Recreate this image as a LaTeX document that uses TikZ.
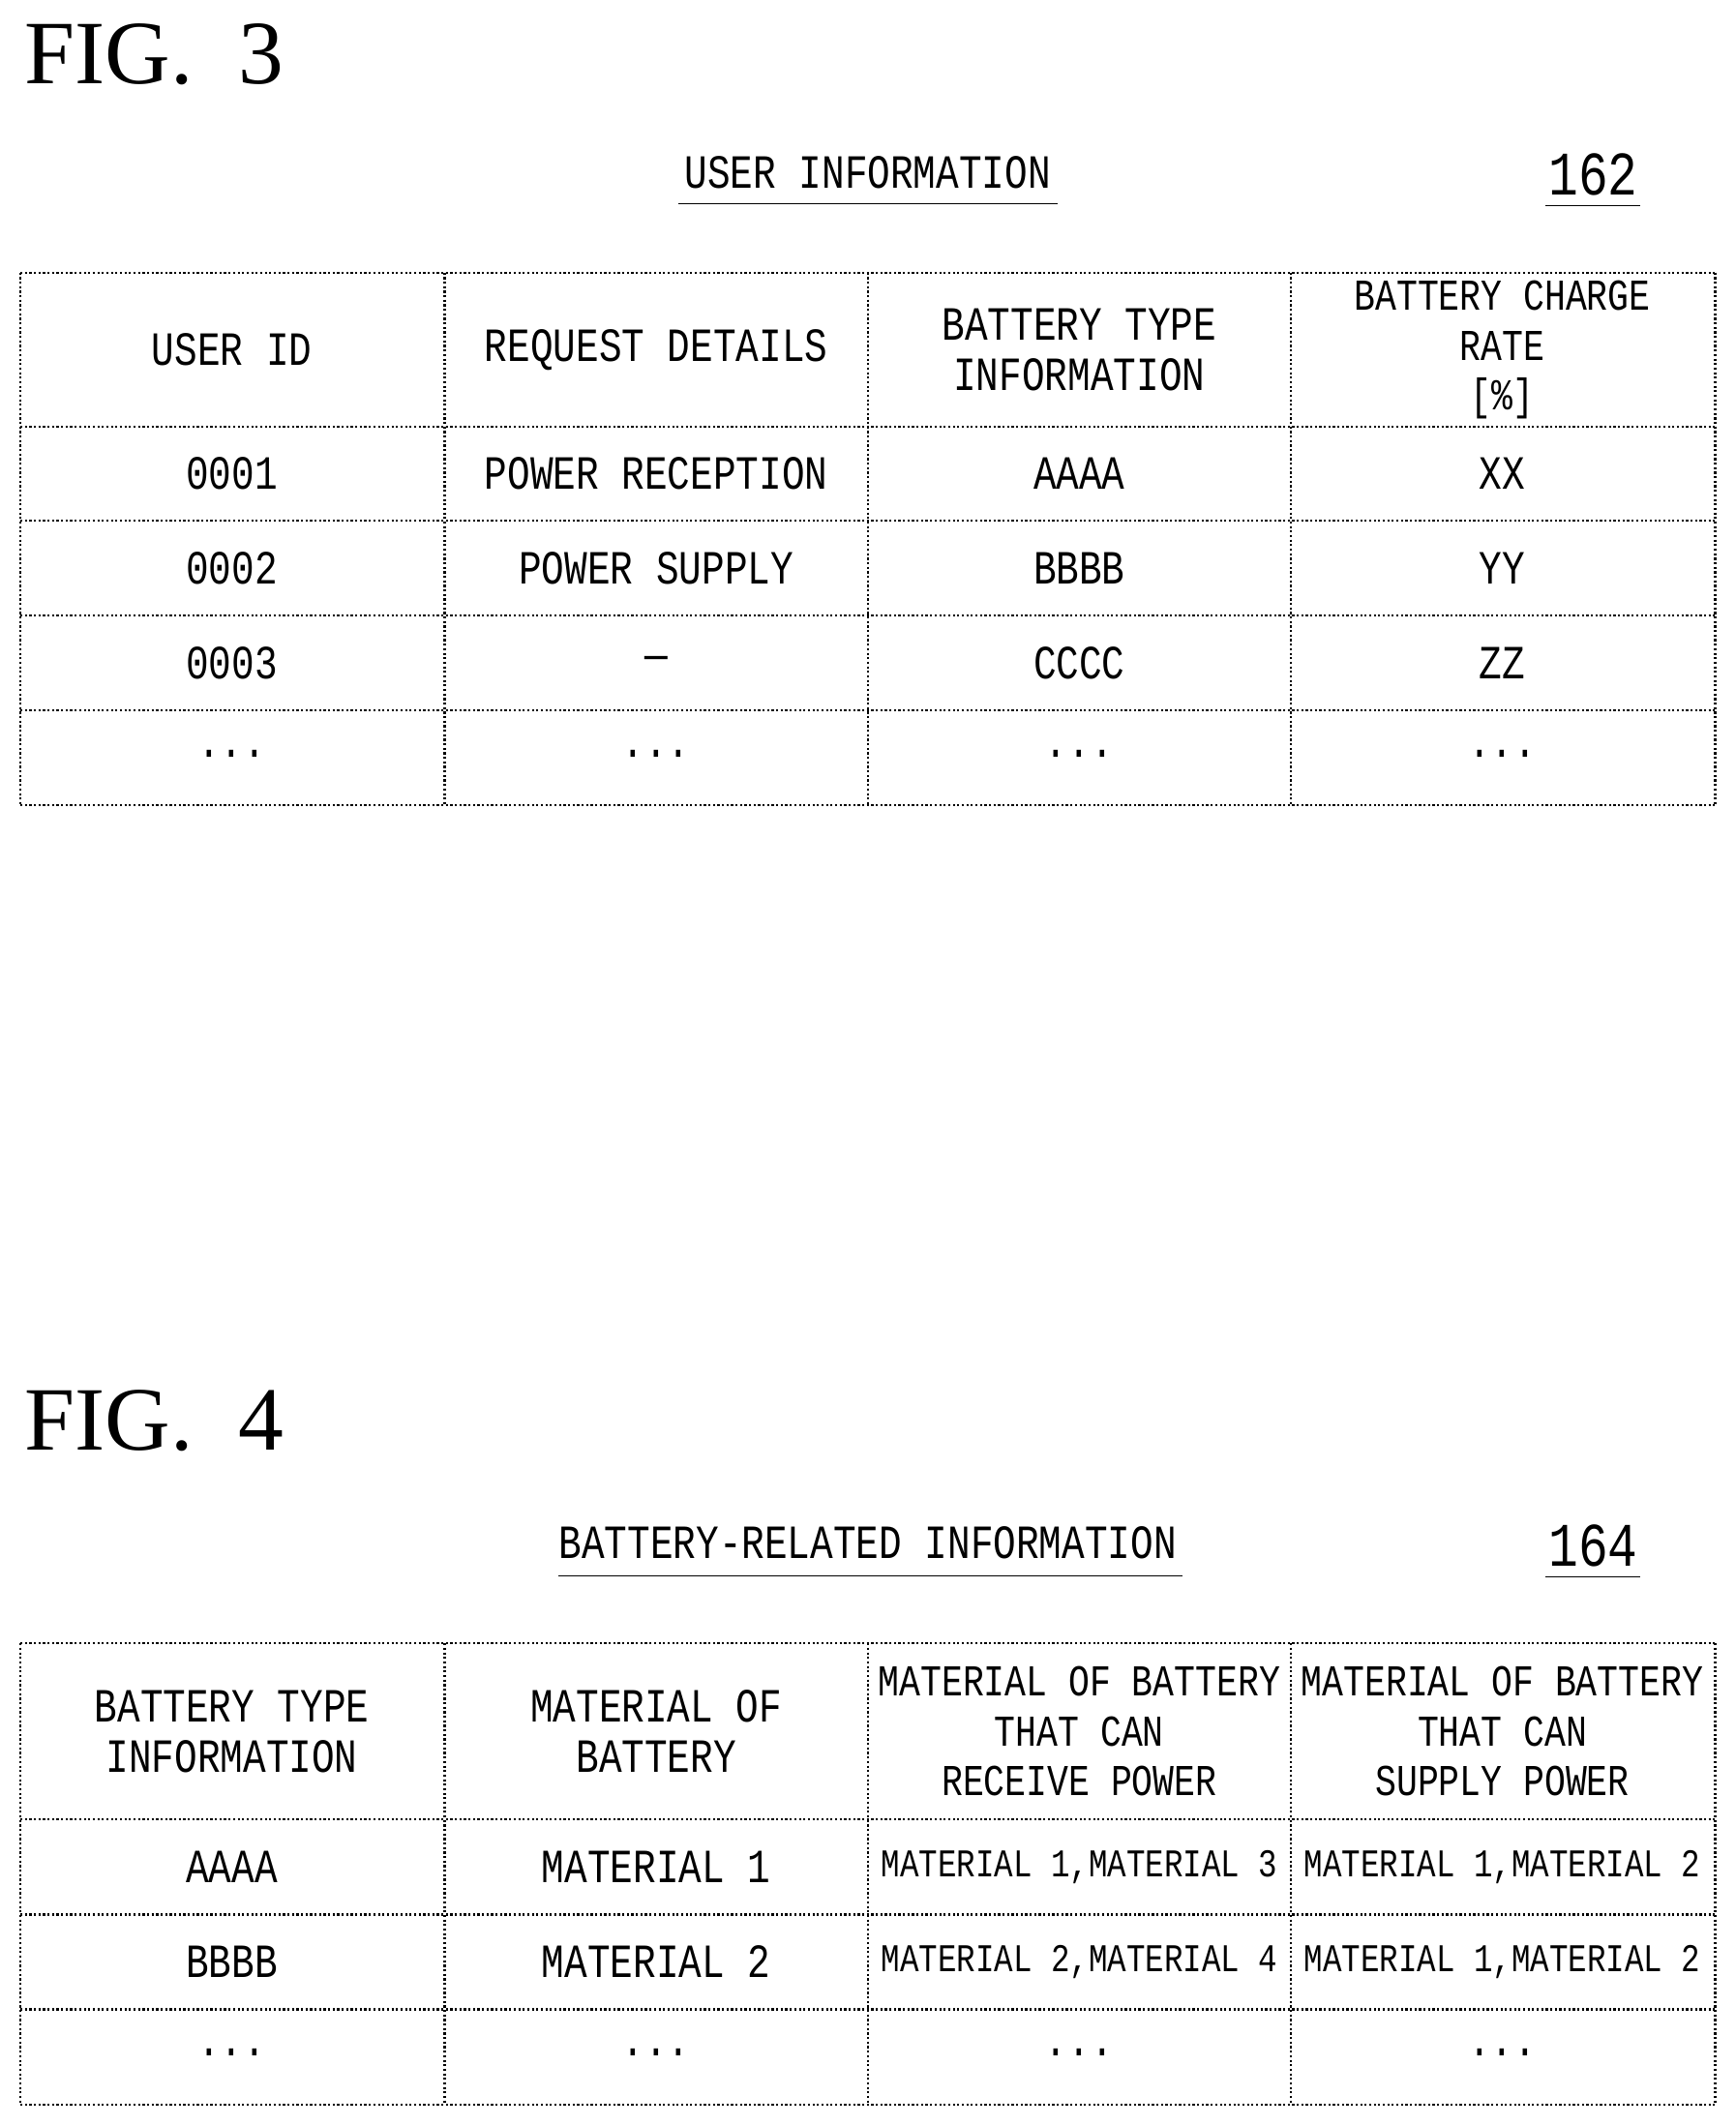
\documentclass[tikz,border=0pt]{standalone}
\usepackage{fontspec}
\setmainfont{Liberation Serif}
\newfontfamily\tabfont[FakeStretch=0.8]{Liberation Mono}
\begin{document}
\begin{tikzpicture}[x=0.02cm,y=-0.02cm,
  grid/.style={line width=0.9pt,densely dotted},
  cell/.style={font=\tabfont\fontsize{20}{21}\selectfont,align=center,inner sep=0pt},
  mcell/.style={cell,font=\tabfont\fontsize{16.5}{21}\selectfont},
  hcell/.style={cell,font=\tabfont\fontsize{18.5}{21}\selectfont},
  fig/.style={font=\fontsize{38}{44}\selectfont,anchor=west,inner sep=0pt},
  ttl/.style={font=\tabfont\fontsize{20}{26}\selectfont,inner sep=0pt}]
\useasboundingbox (0,0) rectangle (1280,1568);
% FIG 3
\node[fig] (f3) at (18,40) {FIG.\ \ 3};
\node[ttl] (t3) at (640,127) {USER INFORMATION};
\draw (500,150) -- (780,150);
\node[ttl,font=\tabfont\fontsize{26}{30}\selectfont] (n162) at (1175,129) {162};
\draw (1140,152) -- (1210,152);
\foreach \x in {15,328,640,952,1265} \draw[grid] (\x,201) -- (\x,594);
\foreach \y in {201,315,384,454,524,594} \draw[grid] (15,\y) -- (1265,\y);
\node[cell] (a1) at (171,258) {USER ID};
\node[cell] (a2) at (484,258) {REQUEST DETAILS};
\node[cell] (a3) at (796,258) {BATTERY TYPE\\INFORMATION};
\node[hcell] (a4) at (1108,258) {BATTERY CHARGE\\RATE\\{[}\%{]}};
\node[cell] at (171,349) {0001};
\node[cell] at (484,349) {POWER RECEPTION};
\node[cell] at (796,349) {AAAA};
\node[cell] at (1108,349) {XX};
\node[cell] at (171,419) {0002};
\node[cell] at (484,419) {POWER SUPPLY};
\node[cell] at (796,419) {BBBB};
\node[cell] at (1108,419) {YY};
\node[cell] at (171,489) {0003};
\node[cell] at (484,489) {—};
\node[cell] at (796,489) {CCCC};
\node[cell] at (1108,489) {ZZ};
\foreach \x in {171,484,796,1108} \node[cell] at (\x,556) {...};
% FIG 4
\node[fig] (f4) at (18,1048) {FIG.\ \ 4};
\node[ttl] (t4) at (640,1138) {BATTERY-RELATED INFORMATION};
\draw (412,1162) -- (872,1162);
\node[ttl,font=\tabfont\fontsize{26}{30}\selectfont] (n164) at (1175,1140) {164};
\draw (1140,1163) -- (1210,1163);
\foreach \x in {15,328,640,952,1265} \draw[grid] (\x,1212) -- (\x,1552);
\foreach \y in {1212,1342,1412,1482,1552} \draw[grid] (15,\y) -- (1265,\y);
\node[cell] at (171,1277) {BATTERY TYPE\\INFORMATION};
\node[cell] at (484,1277) {MATERIAL OF\\BATTERY};
\node[hcell] at (796,1277) {MATERIAL OF BATTERY\\THAT CAN\\RECEIVE POWER};
\node[hcell] at (1108,1277) {MATERIAL OF BATTERY\\THAT CAN\\SUPPLY POWER};
\node[cell] at (171,1377) {AAAA};
\node[cell] at (484,1377) {MATERIAL 1};
\node[mcell] at (796,1377) {MATERIAL 1,MATERIAL 3};
\node[mcell] at (1108,1377) {MATERIAL 1,MATERIAL 2};
\node[cell] at (171,1447) {BBBB};
\node[cell] at (484,1447) {MATERIAL 2};
\node[mcell] at (796,1447) {MATERIAL 2,MATERIAL 4};
\node[mcell] at (1108,1447) {MATERIAL 1,MATERIAL 2};
\foreach \x in {171,484,796,1108} \node[cell] at (\x,1514) {...};
\end{tikzpicture}
\end{document}
